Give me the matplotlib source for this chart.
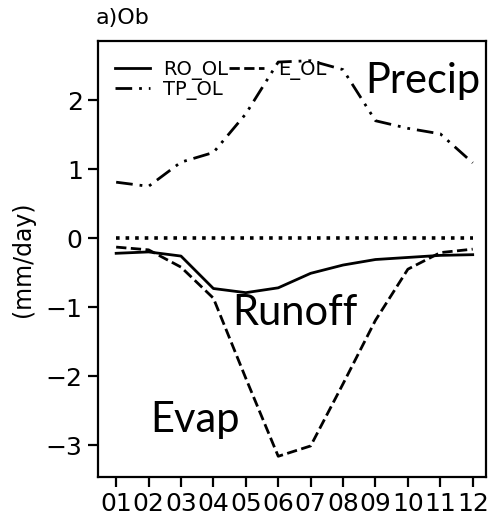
import matplotlib
matplotlib.use("Agg")
import matplotlib.pyplot as plt
import numpy as np

months = np.arange(1, 13)
month_labels = ['01', '02', '03', '04', '05', '06', '07', '08', '09', '10', '11', '12']
runoff = [-0.22, -0.20, -0.26, -0.73, -0.79, -0.72, -0.51, -0.39, -0.31, -0.28, -0.25, -0.24]
evap = [-0.13, -0.17, -0.42, -0.87, -2.03, -3.16, -3.01, -2.11, -1.19, -0.45, -0.21, -0.16]
precip = [0.81, 0.75, 1.10, 1.24, 1.80, 2.55, 2.57, 2.44, 1.70, 1.59, 1.51, 1.09]
zero = [0.0] * 12

fig = plt.figure(figsize=(4.91, 5.19), dpi=100)
ax = fig.add_axes([98/491, 1-477/519, (486-98)/491, (477-41)/519])

l_ro, = ax.plot(months, runoff, color='black', lw=2.0, ls='-', label='RO_OL')
l_e, = ax.plot(months, evap, color='black', lw=2.0, ls='--', label='E_OL')
l_tp, = ax.plot(months, precip, color='black', lw=2.0, ls=(0, (6, 2.5, 1, 2.5, 1, 2.5)), label='TP_OL')
ax.plot(months, zero, color='black', lw=2.6, ls=':')

ax.set_xlim(0.44, 12.41)
ax.set_ylim(-3.46, 2.855)
ax.set_xticks(months)
ax.set_xticklabels(month_labels)
ax.set_yticks([-3, -2, -1, 0, 1, 2])
ax.set_yticklabels(['\u22123', '\u22122', '\u22121', '0', '1', '2'])
ax.tick_params(labelsize=18, length=7, width=1.6, pad=4)
for s in ax.spines.values():
    s.set_linewidth(1.6)
ax.set_ylabel('(mm/day)', fontsize=17, labelpad=8)
ax.set_title('a)Ob', loc='left', fontsize=16, pad=12, x=-0.005)

ax.legend(handles=[l_ro, l_tp, l_e], ncol=2, frameon=False, loc='upper left',
          bbox_to_anchor=(0.043, 0.956), fontsize=14, columnspacing=0.05,
          labelspacing=0.0, handlelength=1.8, handletextpad=0.7, borderaxespad=0.0,
          borderpad=0.0)

ax.text(8.69, 2.10, 'Precip', fontsize=30, family='Lato', va='baseline')
ax.text(4.58, -1.26, 'Runoff', fontsize=30, family='Lato', va='baseline')
ax.text(2.05, -2.81, 'Evap', fontsize=30, family='Lato', va='baseline')

fig.savefig('out.png', dpi=100)
